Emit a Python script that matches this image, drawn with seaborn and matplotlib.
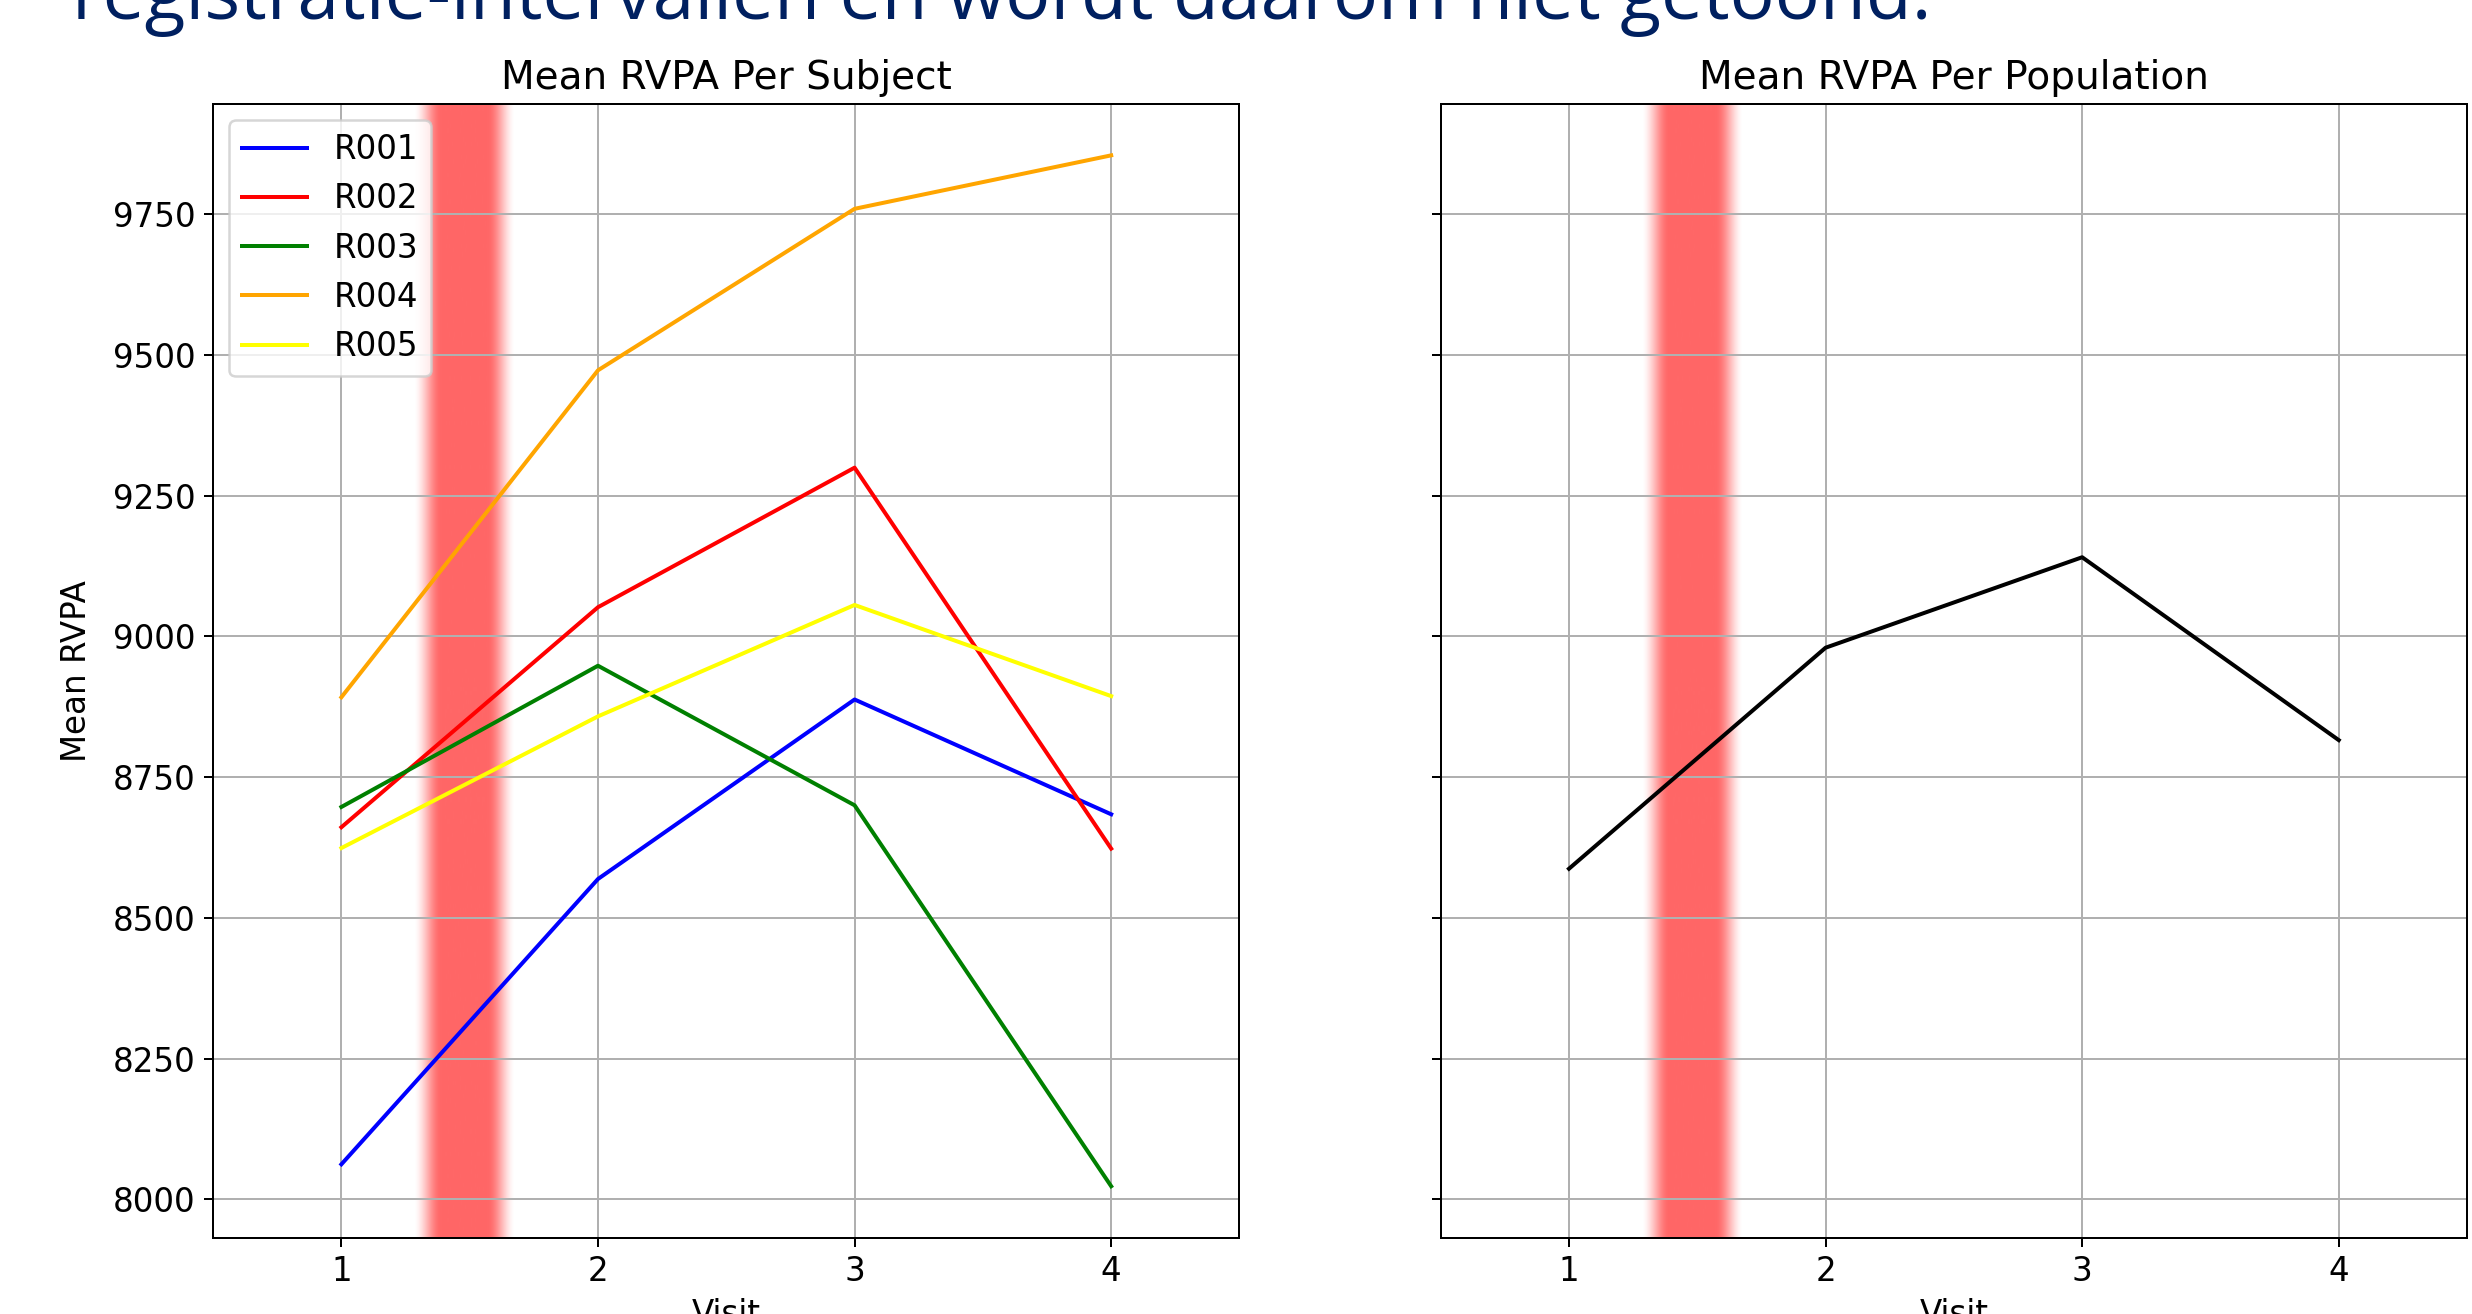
import numpy as np
import pandas as pd
import matplotlib
matplotlib.use("Agg")
import matplotlib.pyplot as plt
import seaborn as sns

# values
visits = [1, 2, 3, 4]
subjects = ["R001", "R002", "R003", "R004", "R005"]
r001 = [8062, 8569, 8888, 8684]
r002 = [8661, 9052, 9300, 8623]
r003 = [8697, 8948, 8700, 8023]
r004 = [8892, 9473, 9760, 9855]
r005 = [8624, 8858, 9056, 8894]
subjectColors = ["blue", "red", "green", "orange", "yellow"]

# gap marker (red blurred band) between visit 1 and 2
bandCenter = 1.48
bandHalf = 0.2

slideText = "registratie-intervallen en wordt daarom niet getoond."

rows = []
for subj, vals in zip(subjects, [r001, r002, r003, r004, r005]):
    for v, val in zip(visits, vals):
        rows.append({"Subject": subj, "Visit": v, "Mean RVPA": val})
df = pd.DataFrame(rows)


def addBand(ax):
    xs = np.linspace(-1, 1, 200)
    d = np.abs(xs)
    # flat core, soft edges
    alpha = np.clip((1.0 - d) / 0.55, 0, 1)
    alpha = alpha * alpha * (3 - 2 * alpha) * 0.6
    img = np.zeros((1, len(xs), 4))
    img[..., 0] = 1.0
    img[..., 3] = alpha
    ylo, yhi = ax.get_ylim()
    ax.imshow(img, extent=(bandCenter - bandHalf, bandCenter + bandHalf, ylo, yhi),
              aspect="auto", zorder=1, interpolation="bilinear")
    ax.set_ylim(ylo, yhi)


plt.rcParams['font.size'] = 13

W, H, DPI = 2472, 1314, 180
fig, axes = plt.subplots(nrows=1, ncols=2, figsize=(W / DPI, H / DPI), dpi=DPI, sharey=True)
fig.subplots_adjust(left=0.0862, right=0.998, bottom=0.058, top=0.921, wspace=0.196)

ax = axes[0]
sns.lineplot(data=df, x="Visit", y="Mean RVPA", hue="Subject", palette=subjectColors,
             ax=ax, linewidth=1.6, zorder=3)
sns.move_legend(ax, "upper left", title=None)
ax.set_title("Mean RVPA Per Subject")
ax.set_ylabel("Mean RVPA", labelpad=8)
ax.set_xlabel("Visit")

ax = axes[1]
sns.lineplot(data=df, x="Visit", y="Mean RVPA", estimator="mean", errorbar=None,
             color="black", ax=ax, linewidth=1.6, zorder=3)
ax.set_title("Mean RVPA Per Population")
ax.set_xlabel("Visit")

for ax in axes:
    ax.set_xticks(visits)
    ax.set_xlim(0.5, 4.5)
    ax.grid(True)

for ax in axes:
    addBand(ax)

fig.text(1931 / W, 1 - 19 / H, slideText, ha="right", va="baseline",
         fontsize=30, color="#002060", family=["Open Sans", "DejaVu Sans"])

fig.savefig("out.png", dpi=DPI)
